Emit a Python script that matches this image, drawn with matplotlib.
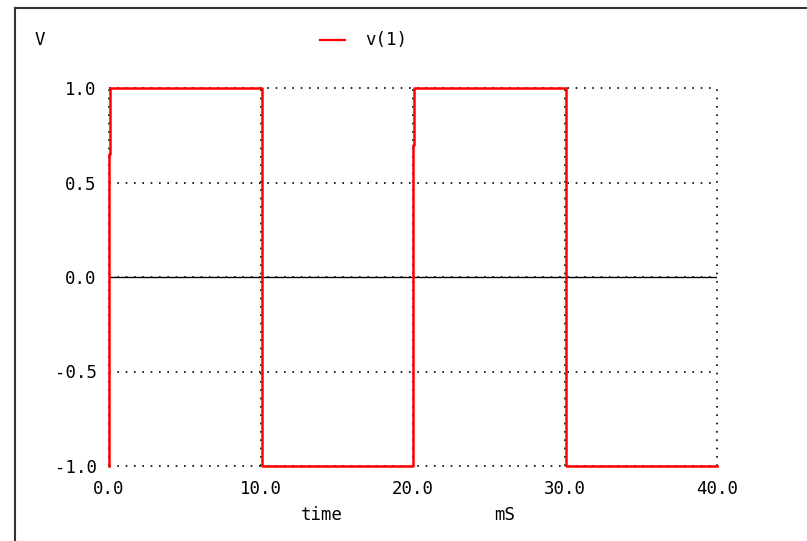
import matplotlib
matplotlib.use("Agg")
import matplotlib.pyplot as plt
from matplotlib.lines import Line2D

# data (time in ms, voltage in V)
t = [0.0, 0.0, 0.06, 0.06, 10.05, 10.05, 20.0, 20.0, 20.06, 20.06, 30.05, 30.05, 40.0]
v = [-1.0, 0.65, 0.65, 1.0, 1.0, -1.0, -1.0, 0.7, 0.7, 1.0, 1.0, -1.0, -1.0]
xticks = [0, 10, 20, 30, 40]
xticklabels = ["0.0", "10.0", "20.0", "30.0", "40.0"]
yticks = [-1.0, -0.5, 0.0, 0.5, 1.0]
yticklabels = ["-1.0", "-0.5", "0.0", "0.5", "1.0"]

plt.rcParams['font.family'] = ['DejaVu Sans Mono']
fs = 12.5

fig = plt.figure(figsize=(8.07, 5.41), dpi=100)
ax = fig.add_axes([109/807, 75/541, 608/807, 378/541])
ax.grid(True, color='black', linestyle=(0, (1, 4)), lw=1.2, zorder=1)
ax.axhline(0, color='black', lw=1.0, zorder=2)
ax.plot(t, v, color='#ff0000', lw=1.8, zorder=3, clip_on=False)
ax.set_xlim(0, 40)
ax.set_ylim(-1, 1)
ax.set_xticks(xticks)
ax.set_xticklabels(xticklabels, fontsize=fs)
ax.set_yticks(yticks)
ax.set_yticklabels(yticklabels, fontsize=fs)
ax.tick_params(length=0, pad=10)
ax.tick_params(axis='y', pad=9)
for s in ax.spines.values():
    s.set_visible(False)
for line in ax.get_xgridlines() + ax.get_ygridlines():
    line.set_clip_on(False)

# labels
fig.text(40/807, 1 - 40/541, "V", fontsize=fs, va='center', ha='center')
fig.add_artist(Line2D([320/807, 345/807], [1 - 40/541, 1 - 40/541], color='#ff0000', lw=1.6))
fig.text(365/807, 1 - 40/541, "v(1)", fontsize=fs, va='center', ha='left')
fig.text(322/807, 1 - 515/541, "time", fontsize=fs, va='center', ha='center')
fig.text(505/807, 1 - 515/541, "mS", fontsize=fs, va='center', ha='center')

# border
fig.add_artist(Line2D([15/807, 15/807], [0, 1 - 8/541], color='#333333', lw=1.5))
fig.add_artist(Line2D([15/807, 1], [1 - 8/541, 1 - 8/541], color='#333333', lw=1.5))

fig.savefig("out.png", dpi=100)
